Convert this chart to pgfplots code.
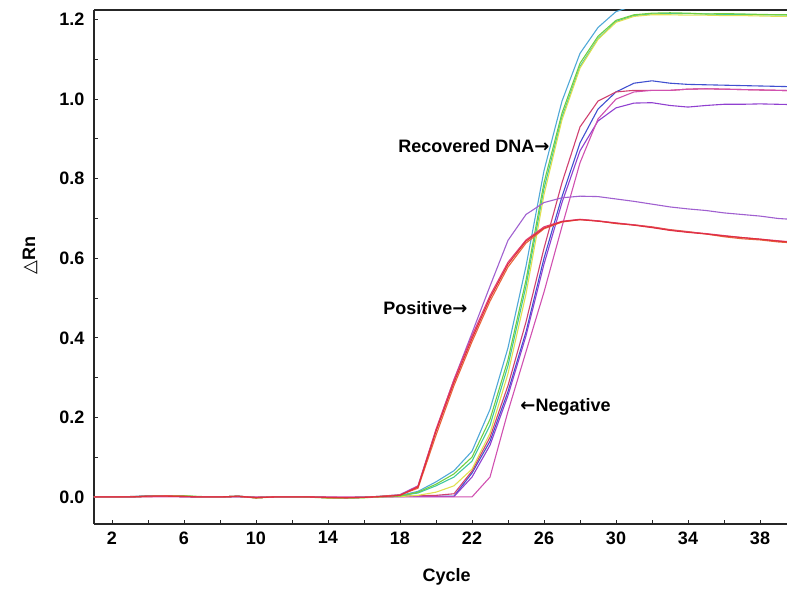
\documentclass[border=0pt]{standalone}
\usepackage{pgfplots}
\usepackage{pgfplotstable}
\pgfplotsset{compat=1.18}
\usepackage{fontspec}
\setmainfont{Liberation Sans}
\newfontfamily\symfont{DejaVu Sans}

\definecolor{pred}{HTML}{E0303A}
\definecolor{porange}{HTML}{E8653A}
\definecolor{ppink}{HTML}{E0407A}
\definecolor{pviolet}{HTML}{A060D0}
\definecolor{gteal}{HTML}{50A8D8}
\definecolor{ggreen}{HTML}{70D040}
\definecolor{glight}{HTML}{40C8A0}
\definecolor{gyellow}{HTML}{E0E050}
\definecolor{nblue}{HTML}{4050D0}
\definecolor{npink}{HTML}{D04070}
\definecolor{npurple}{HTML}{9040D0}
\definecolor{nmagenta}{HTML}{D050B0}

% positive samples: red, orange, pink, violet
\pgfplotstableread{
c  r      o      p      v
1  0      0      0      0
2  0      0      0      0
3  0      0.001  0      0
4  0.002  0.002  0.001  0.002
5  0.002  0.003  0.002  0.002
6  0.001  0.002  0.001  0.001
7  0      0      0      0
8  0      0      0      0
9  0.002  0.001  0.001  0.002
10 -0.002 -0.001 -0.002 -0.001
11 0      0      0      0
12 0      0      0      0
13 0      0      0      0
14 -0.001 -0.002 -0.001 -0.001
15 -0.002 -0.002 -0.001 -0.002
16 -0.001 -0.001 -0.001 -0.001
17 0.001  0.002  0.001  0.002
18 0.004  0.005  0.004  0.006
19 0.025  0.022  0.027  0.028
20 0.165  0.155  0.170  0.168
21 0.288  0.280  0.295  0.295
22 0.398  0.390  0.405  0.412
23 0.500  0.492  0.506  0.530
24 0.585  0.578  0.590  0.645
25 0.643  0.638  0.646  0.710
26 0.676  0.674  0.679  0.740
27 0.692  0.691  0.693  0.752
28 0.697  0.697  0.698  0.756
29 0.693  0.694  0.694  0.755
30 0.688  0.687  0.689  0.749
31 0.683  0.684  0.684  0.743
32 0.677  0.679  0.678  0.736
33 0.670  0.672  0.671  0.729
34 0.665  0.667  0.666  0.724
35 0.661  0.661  0.662  0.720
36 0.656  0.654  0.657  0.714
37 0.652  0.649  0.652  0.710
38 0.648  0.646  0.648  0.706
39 0.643  0.641  0.644  0.700
40 0.639  0.638  0.640  0.697
}\positive

% recovered DNA: teal, green, sea green, yellow
\pgfplotstableread{
c  t      g      l      y
1  0      0      0      0
2  0      0      0      0
3  0.001  0      0      0
4  0.003  0.002  0.002  0.001
5  0.003  0.003  0.003  0.002
6  0.002  0.003  0.002  0.002
7  0      0.001  0      0
8  0      0      0      0
9  0.001  0.002  0.002  0.002
10 -0.002 -0.002 -0.002 -0.003
11 0      0      0      0
12 0      0      0      0
13 0      -0.001 0      0
14 -0.002 -0.002 -0.002 -0.003
15 -0.002 -0.003 -0.002 -0.003
16 -0.001 -0.002 -0.001 -0.002
17 0.002  0.001  0.001  0
18 0.004  0.002  0.003  0.001
19 0.014  0.012  0.010  0.004
20 0.038  0.032  0.028  0.012
21 0.066  0.058  0.050  0.028
22 0.115  0.100  0.090  0.070
23 0.220  0.195  0.180  0.160
24 0.375  0.345  0.330  0.310
25 0.580  0.545  0.530  0.510
26 0.820  0.790  0.775  0.760
27 0.995  0.965  0.955  0.948
28 1.115  1.090  1.082  1.078
29 1.180  1.158  1.152  1.150
30 1.220  1.198  1.195  1.193
31 1.235  1.212  1.210  1.208
32 1.240  1.216  1.214  1.212
33 1.240  1.217  1.215  1.212
34 1.240  1.216  1.215  1.211
35 1.240  1.214  1.214  1.211
36 1.240  1.215  1.213  1.210
37 1.240  1.214  1.213  1.210
38 1.240  1.213  1.212  1.209
39 1.240  1.212  1.212  1.208
40 1.240  1.212  1.211  1.208
}\recovered

% negative samples: blue, pink, purple, magenta
\pgfplotstableread{
c  b      k      u      m
1  0      0      0      0
2  0      0      0      0
3  0      0      0      0
4  0.002  0.001  0.002  0
5  0.002  0.002  0.002  0
6  0.001  0.001  0.001  0
7  0      0      0      0
8  0      0      0      0
9  0.001  0.002  0.001  0
10 -0.002 -0.002 -0.001 0
11 0      0      0      0
12 0      0      0      0
13 0      0      0      0
14 -0.002 -0.001 -0.002 0
15 -0.002 -0.002 -0.002 0
16 -0.001 -0.001 -0.001 0
17 0      0.001  0      0
18 0.001  0.002  0.001  0
19 0.002  0.003  0.001  0
20 0.002  0.004  0.001  0
21 0.002  0.008  0.001  0
22 0.060  0.065  0.050  0
23 0.140  0.150  0.130  0.050
24 0.265  0.280  0.255  0.215
25 0.415  0.440  0.405  0.365
26 0.600  0.625  0.585  0.515
27 0.755  0.790  0.740  0.680
28 0.890  0.930  0.870  0.840
29 0.975  0.995  0.945  0.950
30 1.018  1.018  0.978  1.000
31 1.040  1.022  0.990  1.018
32 1.046  1.022  0.991  1.022
33 1.040  1.022  0.984  1.022
34 1.037  1.025  0.980  1.025
35 1.036  1.026  0.984  1.026
36 1.035  1.025  0.987  1.025
37 1.034  1.024  0.987  1.024
38 1.033  1.023  0.988  1.023
39 1.032  1.022  0.987  1.022
40 1.031  1.021  0.986  1.021
}\negative

\begin{document}
\begin{tikzpicture}[every node/.append style={font=\bfseries\fontsize{18}{21}\selectfont}]
\begin{axis}[
    scale only axis,
    width=693pt, height=514pt,
    xmin=1, xmax=39.5,
    ymin=-0.068, ymax=1.224,
    axis x line*=box, axis y line*=left,
    xtick pos=bottom, ytick pos=left,
    axis line style={black!85, line width=1.2pt},
    xtick={2,6,10,14,18,22,26,30,34,38},
    minor xtick={4,8,12,16,20,24,28,32,36},
    ytick={0,0.2,0.4,0.6,0.8,1.0,1.2},
    minor ytick={0.1,0.3,0.5,0.7,0.9,1.1},
    tick align=inside,
    major tick length=4.5pt, minor tick length=4.5pt,
    tick style={black!85, line width=0.8pt},
    /pgf/number format/assume math mode=true,
    ticklabel style={font=\bfseries\fontsize{18}{21}\selectfont},
    yticklabel style={xshift=-6pt, /pgf/number format/fixed, /pgf/number format/fixed zerofill, /pgf/number format/precision=1},
    xticklabel style={yshift=-4pt},
    xlabel={Cycle},
    ylabel={{\symfont △}Rn},
    label style={font=\bfseries\fontsize{18}{21}\selectfont},
    xlabel style={at={(axis description cs:0.509,-0.103)}, anchor=center},
    ylabel style={at={(axis description cs:-0.0924,0.523)}, anchor=center},
    every axis plot/.append style={no marks, line width=1.1pt},
]
\addplot[color=nblue] table[x=c, y=b] {\negative};
\addplot[color=npink] table[x=c, y=k] {\negative};
\addplot[color=npurple] table[x=c, y=u] {\negative};
\addplot[color=nmagenta] table[x=c, y=m] {\negative};
\addplot[color=gteal] table[x=c, y=t] {\recovered};
\addplot[color=glight] table[x=c, y=l] {\recovered};
\addplot[color=gyellow] table[x=c, y=y] {\recovered};
\addplot[color=ggreen] table[x=c, y=g] {\recovered};
\addplot[color=pviolet] table[x=c, y=v] {\positive};
\addplot[color=porange] table[x=c, y=o] {\positive};
\addplot[color=ppink] table[x=c, y=p] {\positive};
\addplot[color=pred] table[x=c, y=r] {\positive};
\node[anchor=west, inner sep=0pt] at (axis cs:17.9,0.882) {Recovered DNA{\symfont →}};
\node[anchor=west, inner sep=0pt] at (axis cs:17.07,0.474) {Positive{\symfont →}};
\node[anchor=west, inner sep=0pt] at (axis cs:24.68,0.2255) {{\symfont ←}Negative};
\end{axis}
\pgfresetboundingbox
\path ([xshift=-94pt,yshift=-65pt]current axis.south west) rectangle ([yshift=10pt]current axis.north east);
\end{tikzpicture}
\end{document}
